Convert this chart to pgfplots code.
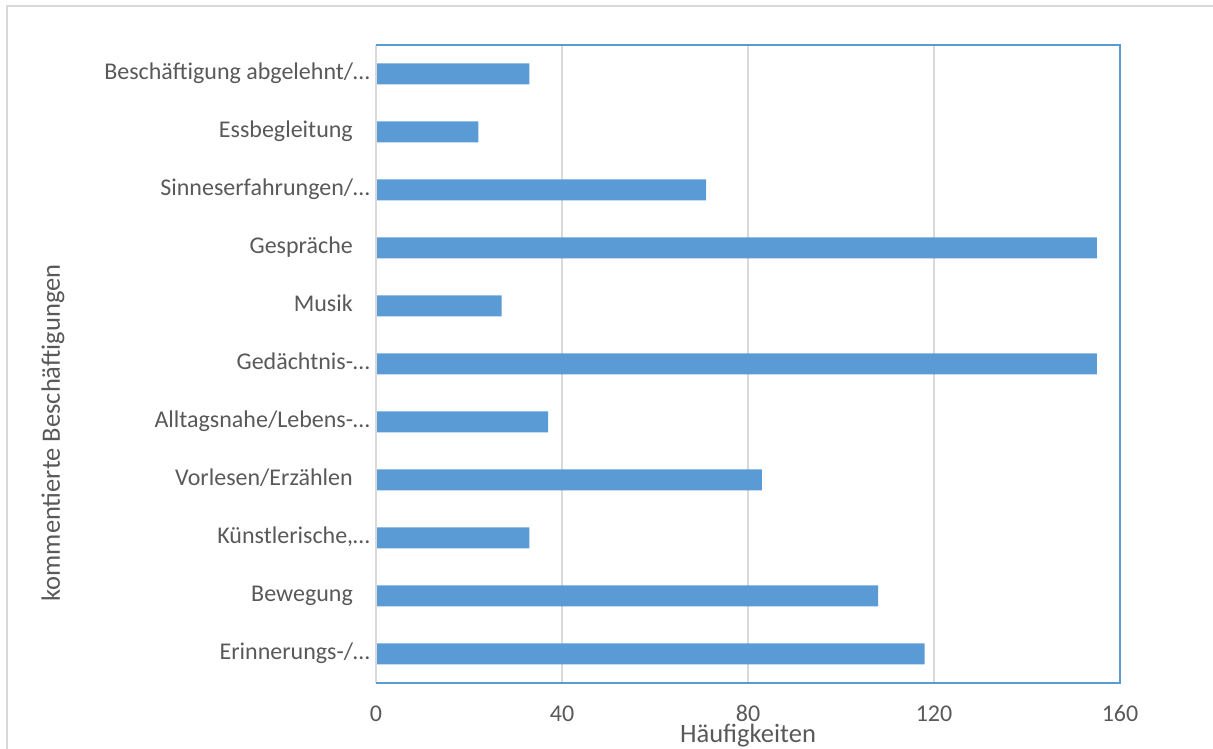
\documentclass[border=0pt]{standalone}
\usepackage{pgfplots}
\pgfplotsset{compat=1.18}
\usepackage{pgfplotstable}
\usepackage{fontspec}
\setmainfont{Carlito}

\definecolor{barblue}{HTML}{5B9BD5}
\definecolor{gridgray}{HTML}{D9D9D9}
\definecolor{textgray}{HTML}{595959}

% Häufigkeiten je Beschäftigung (Index 0 = unterste Zeile)
\pgfplotstableread{
idx value
0   118
1   108
2   33
3   83
4   37
5   155
6   27
7   155
8   71
9   22
10  33
}\haeufigkeiten

% Leerraum hinter ungekürzten Kategorienamen
\newcommand{\trail}{\rule{17pt}{0pt}}

\begin{document}
\begin{tikzpicture}[x=1pt,y=1pt]
  \path[use as bounding box] (0,0) rectangle (1213,749);
  % Rahmen des Diagrammbereichs
  \draw[gridgray, line width=2pt] (6.5,0) -- (6.5,742.5) -- (1213,742.5);

  \begin{axis}[
    at={(376pt,66pt)}, anchor=south west,
    scale only axis,
    width=744pt, height=638pt,
    xmin=0, xmax=160,
    ymin=-0.5, ymax=10.5,
    xtick={0,40,80,120,160},
    ytick={0,1,2,3,4,5,6,7,8,9,10},
    yticklabels={
      {Erinnerungs-/…},
      {Bewegung\trail},
      {Künstlerische,…},
      {Vorlesen/Erzählen\trail},
      {Alltagsnahe/Lebens-…},
      {Gedächtnis-…},
      {Musik\trail},
      {Gespräche\trail},
      {Sinneserfahrungen/…},
      {Essbegleitung\trail},
      {Beschäftigung abgelehnt/…}
    },
    major tick length=0pt,
    xmajorgrids,
    grid style={gridgray, line width=2pt},
    axis line style={draw=none},
    /pgf/number format/assume math mode=true,
    ticklabel style={font=\fontsize{24}{28}\selectfont, text=textgray, inner sep=0pt},
    yticklabel style={anchor=base east, xshift=-6pt, yshift=-6pt},
    xticklabel style={anchor=base, yshift=-39pt},
    xbar, bar width=21pt,
    clip=false,
  ]
    \addplot[fill=barblue, draw=none] table[x=value, y=idx] {\haeufigkeiten};
    \draw[gridgray, line width=2pt] (rel axis cs:0,0) -- (rel axis cs:0,1);
    \draw[barblue, line width=2pt] (rel axis cs:0,1) -- (rel axis cs:1,1)
      -- (rel axis cs:1,0) -- (rel axis cs:0,0);
  \end{axis}

  \node[anchor=base, text=textgray, font=\fontsize{26.5}{30}\selectfont, inner sep=0pt]
    at (748,6) {Häufigkeiten};
  \node[rotate=90, text=textgray, font=\fontsize{26.5}{30}\selectfont, inner sep=0pt]
    at (53,316) {kommentierte Beschäftigungen};
\end{tikzpicture}
\end{document}
